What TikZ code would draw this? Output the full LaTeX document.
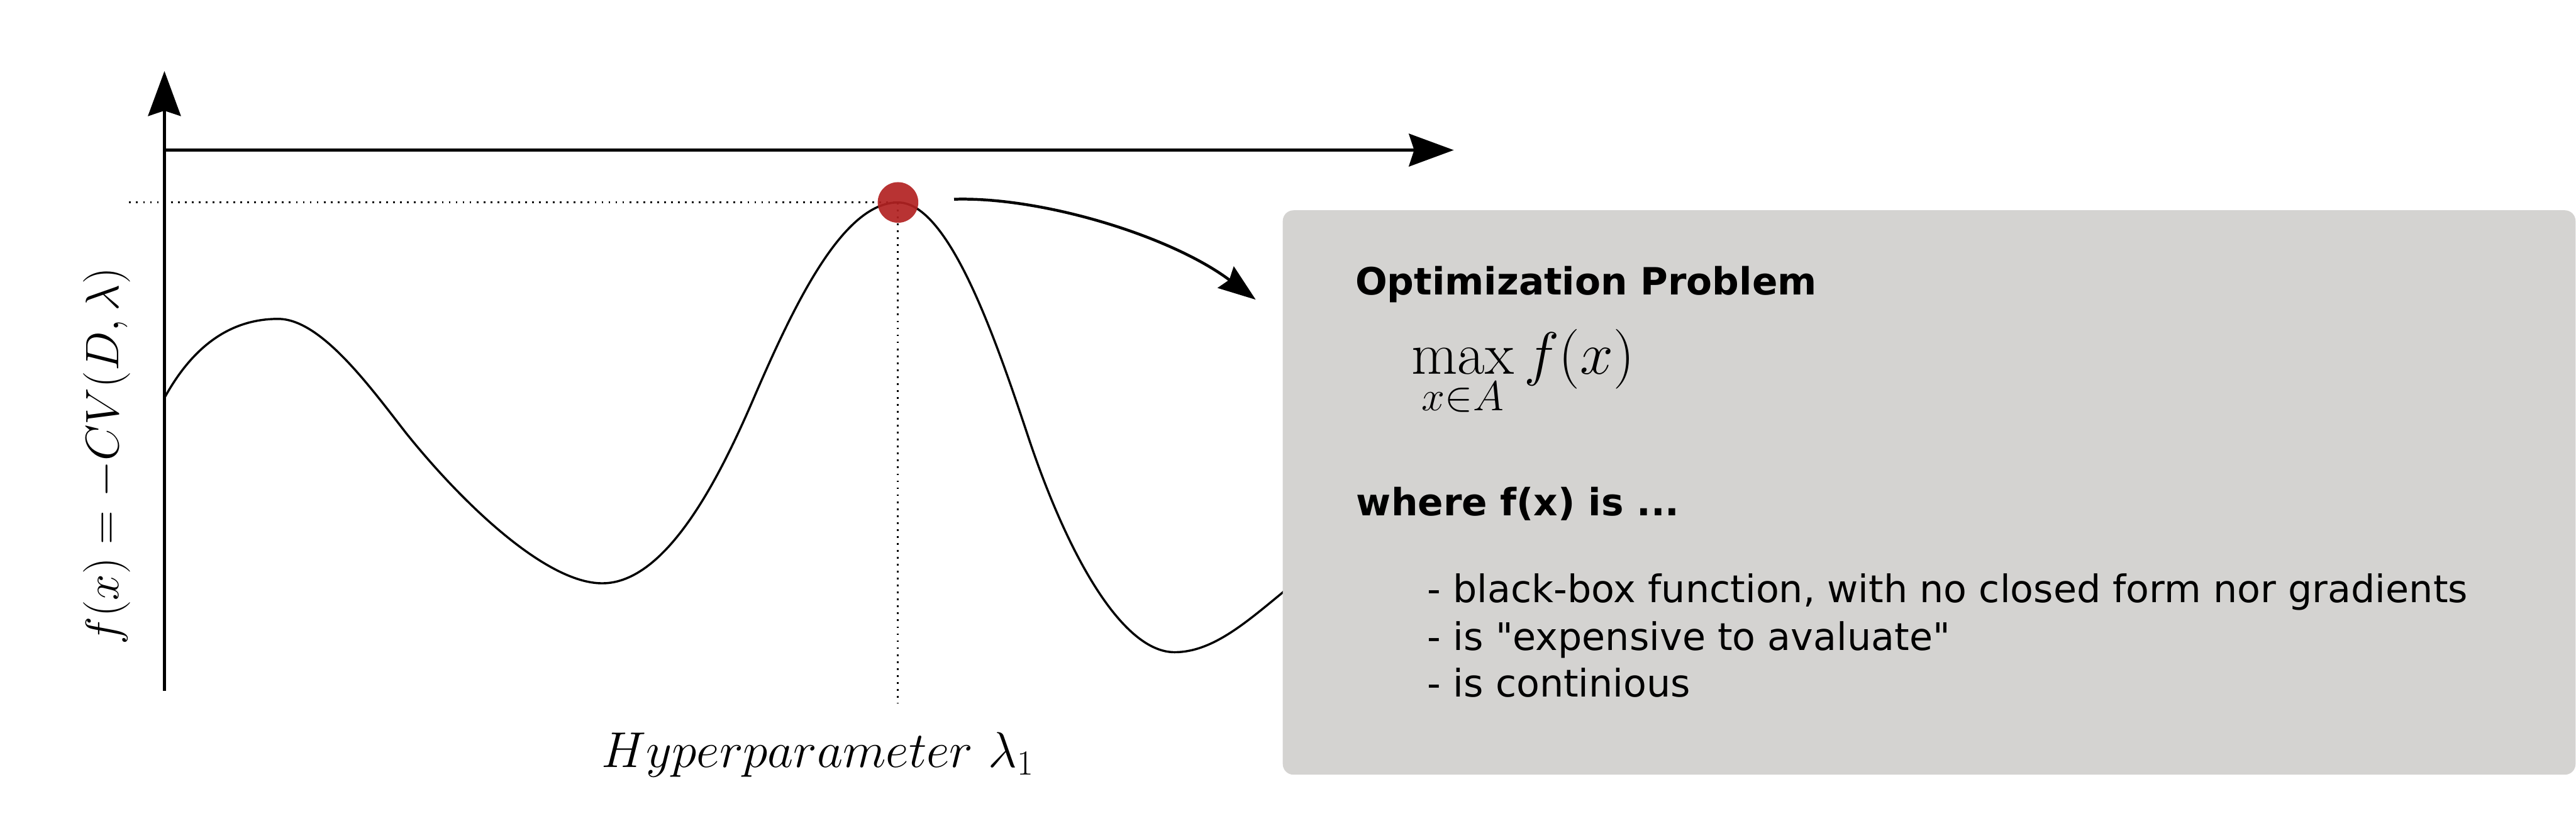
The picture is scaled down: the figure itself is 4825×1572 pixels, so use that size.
\RequirePackage{fix-cm}
\documentclass[tikz,border=0pt]{standalone}
\usepackage{amsmath}
\usepackage{fontspec}
\newfontfamily\dejavu{DejaVu Sans}
\usetikzlibrary{arrows.meta}
\definecolor{boxgray}{RGB}{212,211,209}
\definecolor{dotred}{RGB}{178,34,34}
\begin{document}
\begin{tikzpicture}[x=0.01cm,y=-0.01cm,
  axis/.style={line width=1.7pt, -{Stealth[length=23.9pt,width=17.4pt,inset=2.8pt]}},
  fcurve/.style={line width=1.15pt},
  guide/.style={line width=0.94pt, dash pattern=on 0.94pt off 2.76pt},
  pointer/.style={line width=1.5pt, -{Stealth[length=19.9pt,width=14.2pt,inset=2.3pt]}},
  txt/.style={inner sep=0pt, anchor=base west, font=\dejavu\fontsize{20.2}{25}\selectfont},
  head/.style={inner sep=0pt, anchor=base west, font=\dejavu\bfseries\fontsize{20}{25}\selectfont},
  mathlbl/.style={inner sep=0pt, font=\fontsize{25}{30}\selectfont}]
\useasboundingbox (0,0) rectangle (4825,1572);

% axes
\coordinate (O) at (308,1293);
\coordinate (ytip) at (308,133);
\coordinate (xS) at (308,281);
\coordinate (xtip) at (2723,281);
\draw[axis] (O) -- (ytip);
\draw[axis] (xS) -- (xtip);

% objective curve
\draw[fcurve] (308,745) .. controls (360,650) and (430,597) .. (521,597)
  .. controls (600,597) and (690,720) .. (760,810)
  .. controls (860,935) and (1020,1092) .. (1128,1092)
  .. controls (1250,1092) and (1350,890) .. (1415,738)
  .. controls (1490,565) and (1580,379) .. (1682,379)
  .. controls (1780,379) and (1870,650) .. (1930,830)
  .. controls (2005,1050) and (2105,1221) .. (2200,1221)
  .. controls (2280,1221) and (2350,1150) .. (2430,1087);

% guides and optimum
\coordinate (peak) at (1682,379);
\coordinate (gl) at (242,379);
\coordinate (gb) at (1682,1317);
\draw[guide] (gl) -- (peak);
\draw[guide] (peak) -- (gb);
\node[circle, fill=dotred, fill opacity=0.92, inner sep=0pt, minimum size=0.76cm] (dot) at (peak) {};

% pointer arrow
\coordinate (ptrS) at (1787,373);
\coordinate (ptrE) at (2352,561);
\draw[pointer] (ptrS) .. controls (1950,368) and (2192,441) .. (ptrE);

% box
\node[fill=boxgray, rounded corners=0.2cm, inner sep=0pt, minimum width=24.2cm, minimum height=10.56cm, anchor=north west] (box) at (2402,393) {};

\node[head] (title) at (2538,552) {Optimization Problem};
\node[inner sep=0pt, anchor=base west, font=\fontsize{31.8}{38}\selectfont] (maxf) at (2643,700) {$\displaystyle\max_{x\in A} f(x)$};
\node[head] (where) at (2540,965) {where f(x) is ...};
\node[txt] (b1) at (2673,1128) {- black-box function, with no closed form nor gradients};
\node[txt] (b2) at (2673,1217) {- is "expensive to avaluate"};
\node[txt] (b3) at (2673,1305) {- is continious};

% axis labels
\node[mathlbl, anchor=base, font=\fontsize{26.8}{32}\selectfont] (xlab) at (1532,1437) {$Hyperparameter\ \lambda_1$};
\node[mathlbl, rotate=90] (ylab) at (200,854) {$f(x) = -CV(D, \lambda)$};
\end{tikzpicture}
\end{document}
